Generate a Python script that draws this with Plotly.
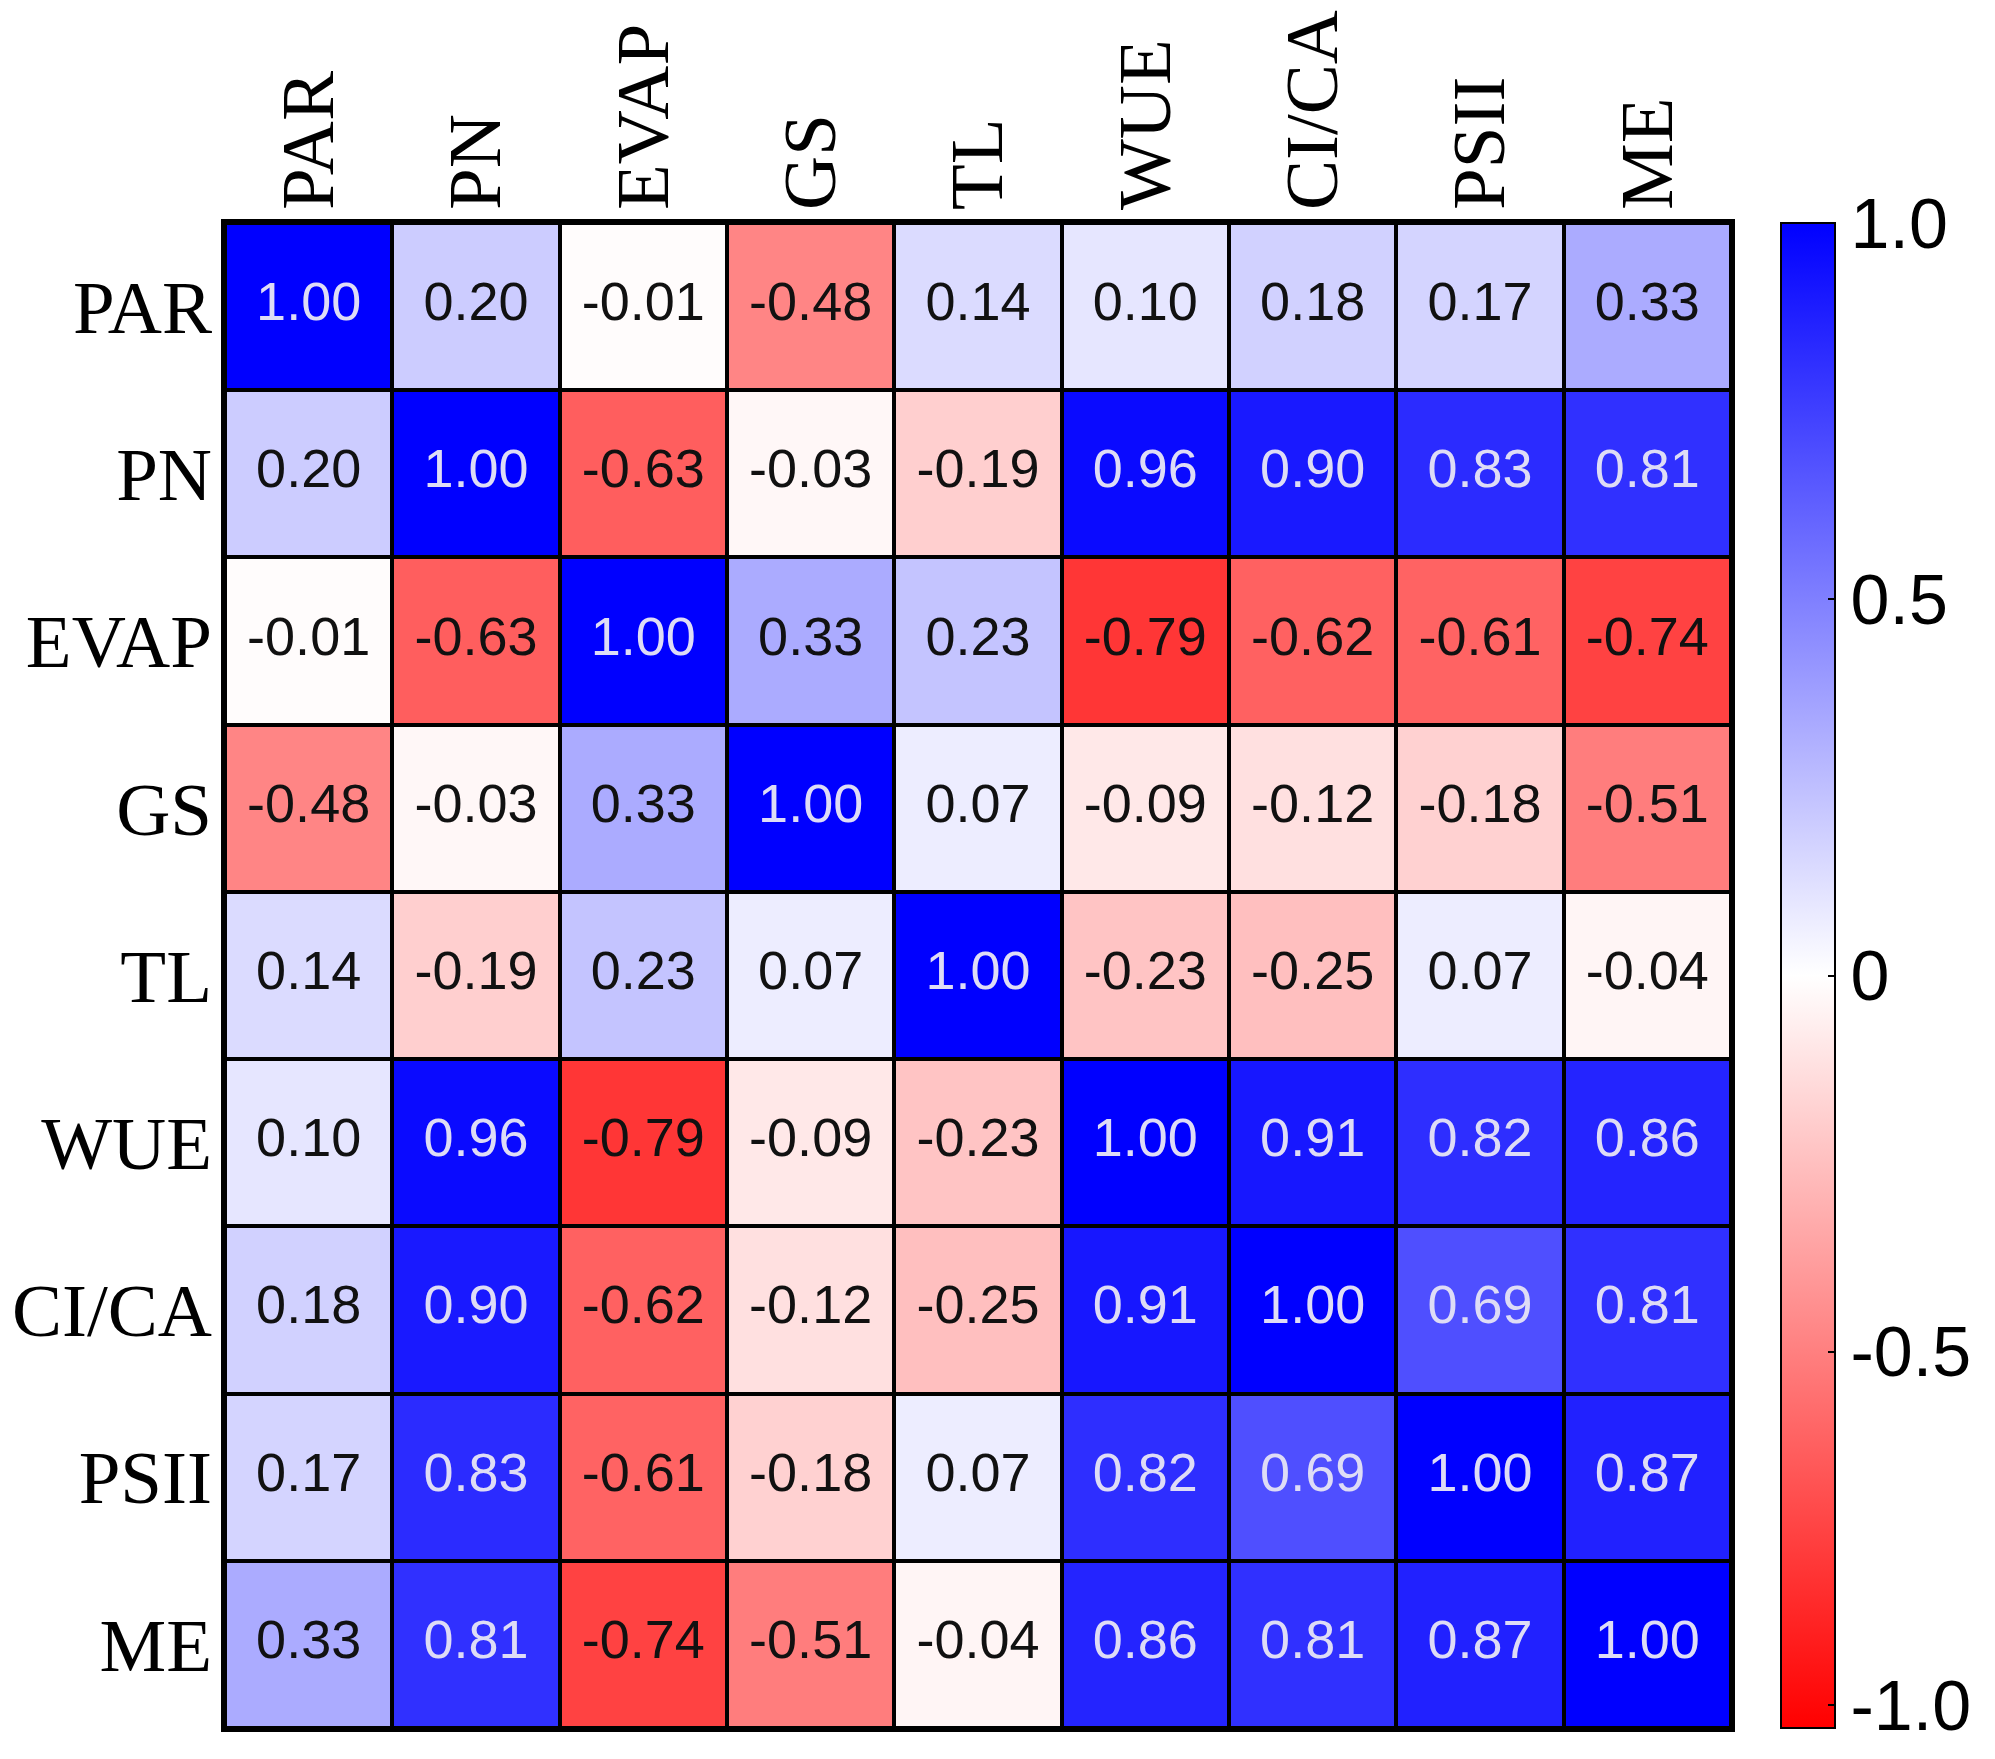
import plotly.graph_objects as go

labels = ["PAR", "PN", "EVAP", "GS", "TL", "WUE", "CI/CA", "PSII", "ME"]

row_PAR  = [1.00, 0.20, -0.01, -0.48, 0.14, 0.10, 0.18, 0.17, 0.33]
row_PN   = [0.20, 1.00, -0.63, -0.03, -0.19, 0.96, 0.90, 0.83, 0.81]
row_EVAP = [-0.01, -0.63, 1.00, 0.33, 0.23, -0.79, -0.62, -0.61, -0.74]
row_GS   = [-0.48, -0.03, 0.33, 1.00, 0.07, -0.09, -0.12, -0.18, -0.51]
row_TL   = [0.14, -0.19, 0.23, 0.07, 1.00, -0.23, -0.25, 0.07, -0.04]
row_WUE  = [0.10, 0.96, -0.79, -0.09, -0.23, 1.00, 0.91, 0.82, 0.86]
row_CICA = [0.18, 0.90, -0.62, -0.12, -0.25, 0.91, 1.00, 0.69, 0.81]
row_PSII = [0.17, 0.83, -0.61, -0.18, 0.07, 0.82, 0.69, 1.00, 0.87]
row_ME   = [0.33, 0.81, -0.74, -0.51, -0.04, 0.86, 0.81, 0.87, 1.00]

z = [row_PAR, row_PN, row_EVAP, row_GS, row_TL, row_WUE, row_CICA, row_PSII, row_ME]

cbar_tickvals = [1.0, 0.5, 0.0, -0.5, -0.97]
cbar_ticktext = ["1.0", "0.5", "0", "-0.5", "-1.0"]

colorscale = [[0.0, "rgb(255,0,0)"], [0.5, "rgb(255,255,255)"], [1.0, "rgb(0,0,255)"]]

SANS = "Liberation Sans, Arial, sans-serif"
SERIF = "Liberation Serif, Times New Roman, serif"

fig = go.Figure()
fig.add_trace(go.Heatmap(
    z=z, x=labels, y=labels,
    zmin=-1, zmax=1, colorscale=colorscale,
    xgap=4, ygap=4,
    hoverinfo="skip",
    colorbar=dict(
        thickness=54, len=1.0, lenmode="fraction", y=0.5, yanchor="middle", ypad=0,
        x=1.0332, xanchor="left", xpad=0,
        outlinecolor="black", outlinewidth=2,
        tickvals=cbar_tickvals, ticktext=cbar_ticktext,
        ticks="inside", ticklen=8, tickwidth=2, tickcolor="black",
        ticklabeloverflow="allow",
        tickfont=dict(family=SANS, size=70, color="black"),
    ),
))

xs, ys, txt, cols = [], [], [], []
for i, r in enumerate(labels):
    for j, c in enumerate(labels):
        v = z[i][j]
        xs.append(c)
        ys.append(r)
        txt.append(f"{v:.2f}")
        cols.append("#dedcf6" if v > 0.5 else "#111111")

fig.add_trace(go.Scatter(
    x=xs, y=ys, text=txt, mode="text",
    textfont=dict(family=SANS, size=54, color=cols),
    hoverinfo="skip", showlegend=False,
))

fig.update_xaxes(
    side="top", tickangle=-90, showgrid=False, zeroline=False,
    tickfont=dict(family=SERIF, size=75, color="black"),
    showline=True, mirror=True, linecolor="black", linewidth=4,
    ticks="", ticklabelstandoff=-6, automargin=False,
)
fig.update_yaxes(
    autorange="reversed", showgrid=False, zeroline=False,
    tickfont=dict(family=SERIF, size=75, color="black"),
    showline=True, mirror=True, linecolor="black", linewidth=4,
    ticks="", ticklabelstandoff=-6, automargin=False,
)

fig.update_layout(
    width=1995, height=1759,
    margin=dict(l=217, r=272, t=215, b=39, autoexpand=False),
    plot_bgcolor="black", paper_bgcolor="white",
    showlegend=False,
)

fig.write_html("out.html")
